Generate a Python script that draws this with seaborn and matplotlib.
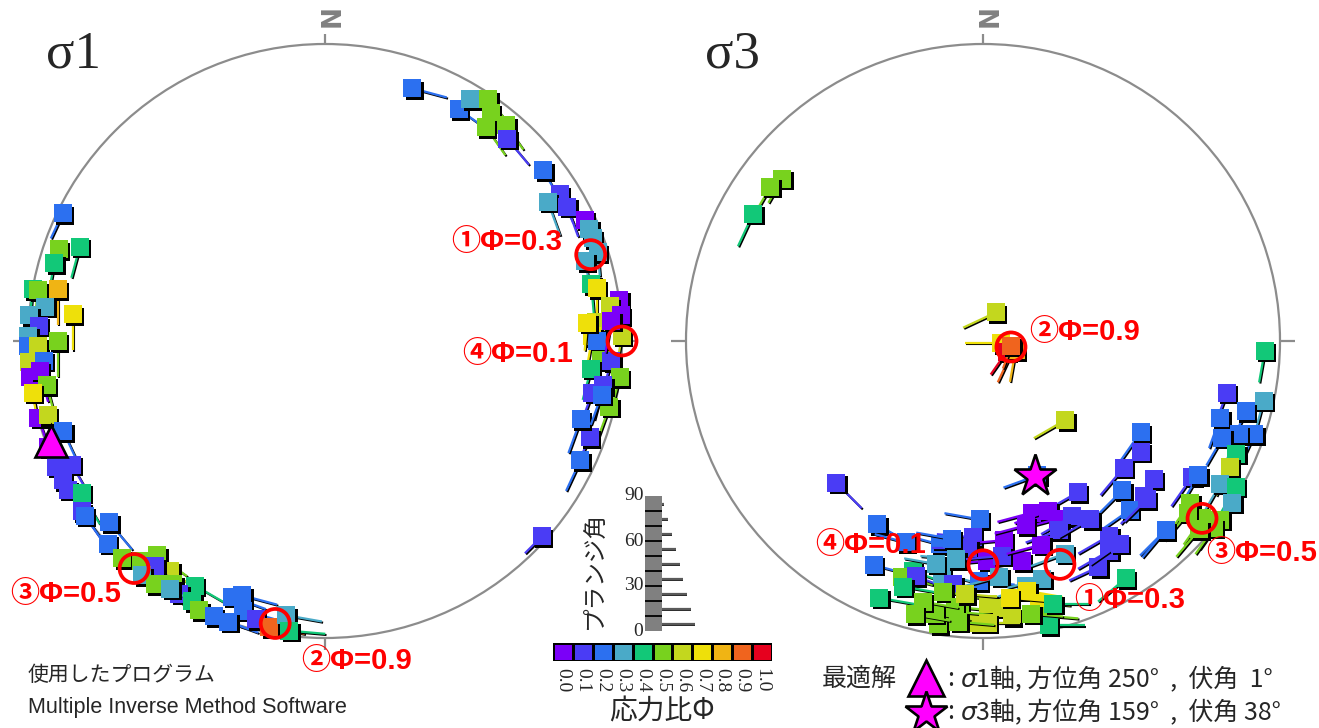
import numpy as np
import matplotlib
matplotlib.use("Agg")
import matplotlib.pyplot as plt
import seaborn as sns
from matplotlib.colors import ListedColormap
from matplotlib.patches import Circle, Rectangle
from matplotlib.lines import Line2D
from matplotlib.text import Annotation
from matplotlib.transforms import ScaledTranslation

# ---------------------------------------------------------------- data
# stress ratio classes and their colours
phi_levels = [0.0, 0.1, 0.2, 0.3, 0.4, 0.5, 0.6, 0.7, 0.8, 0.9, 1.0]
phi_colors = ["#7B00F8", "#4A3CF5", "#2C70F0", "#4AAAC8", "#12C878", "#78D21E",
              "#C3D71E", "#EEE00A", "#F0B414", "#F0641E", "#E6001E"]

# sigma1 tadpoles: axis trend / plunge, stress ratio, tail direction / tail plunge
s1_trend = [19, 30, 31, 34, 36, 37, 40, 42, 52, 58,
            58, 61, 65, 67, 69, 72, 73, 78, 79, 82,
            83, 85, 86, 89, 89, 90, 94, 94, 96, 97,
            101, 99, 103, 110, 115, 132, 107, 86, 86, 101,
            296, 289, 291, 286, 280, 280, 281, 277, 275, 276,
            273, 271, 269, 269, 270, 266, 266, 263, 264, 261,
            260, 255, 255, 251, 249, 245, 244, 242, 240, 238,
            235, 234, 230, 227, 223, 220, 218, 214, 217, 218,
            215, 212, 208, 210, 212, 207, 205, 202, 200, 198,
            197, 199, 194, 191, 188, 187]
s1_plunge = [6, 6, 3, 1, 3, 6, 3, 5, 4, 4,
             7, 4, 2, 2, 2, 2, 5, 5, 4, 0,
             2, 0, 5, 0, 6, 5, 4, 2, 6, 0,
             5, 3, 1, 3, 3, 1, 6, 7, 2, 3,
             1, 3, 7, 3, 0, 1, 5, 3, 0, 9,
             2, 0, 0, 2, 6, 0, 3, 0, 2, 3,
             0, 0, 2, 4, 0, 0, 3, 0, 0, 2,
             0, 0, 3, 0, 0, 2, 5, 4, 3, 0,
             0, 2, 4, 1, 1, 1, 0, 0, 5, 6,
             3, 0, 2, 1, 4, 1]
s1_phi = [0.2, 0.2, 0.3, 0.5, 0.5, 0.5, 0.5, 0.1, 0.2, 0.1,
          0.3, 0.1, 0.0, 0.3, 0.3, 0.3, 0.3, 0.4, 0.7, 0.0,
          0.6, 0.0, 0.6, 0.6, 0.7, 0.2, 0.5, 0.1, 0.4, 0.5,
          0.1, 0.1, 0.5, 0.1, 0.2, 0.1, 0.2, 0.7, 0.0, 0.2,
          0.2, 0.5, 0.4, 0.4, 0.4, 0.5, 0.8, 0.3, 0.3, 0.7,
          0.1, 0.3, 0.2, 0.6, 0.5, 0.6, 0.2, 0.0, 0.0, 0.5,
          0.7, 0.0, 0.6, 0.2, 0.0, 0.1, 0.1, 0.1, 0.1, 0.4,
          0.1, 0.2, 0.2, 0.2, 0.5, 0.5, 0.5, 0.6, 0.1, 0.3,
          0.5, 0.5, 0.4, 0.1, 0.3, 0.4, 0.5, 0.2, 0.2, 0.2,
          0.2, 0.2, 0.1, 0.9, 0.3, 0.4]
s1_tail_dir = [105, 125, 130, 140, 140, 145, 145, 140, 150, 155,
               160, 160, 165, 165, 170, 175, 170, 175, 180, 185,
               185, 190, 185, 190, 190, 190, 190, 195, 195, 195,
               200, 195, 200, 205, 205, 225, 200, 185, 190, 200,
               205, 195, 195, 190, 185, 185, 180, 180, 180, 180,
               175, 175, 170, 175, 180, 170, 170, 170, 165, 165,
               170, 160, 160, 155, 155, 150, 150, 150, 145, 150,
               145, 145, 140, 135, 130, 130, 125, 125, 130, 130,
               125, 125, 120, 120, 120, 115, 115, 110, 110, 105,
               105, 110, 105, 100, 100, 95]
s1_tail_plunge = [0, 10, 30, 20, 10, 5, 15, 5, 20, 10,
                  0, 10, 20, 10, 20, 30, 5, 0, 10, 10,
                  0, 20, 0, 30, 20, 0, 0, 10, 10, 0,
                  10, 0, 5, 20, 5, 30, 0, 20, 10, 10,
                  20, 40, 10, 30, 20, 10, 0, 20, 30, 0,
                  20, 30, 20, 10, 0, 10, 20, 10, 10, 0,
                  20, 10, 20, 10, 20, 10, 0, 0, 0, 0,
                  10, 0, 0, 10, 20, 10, 0, 0, 10, 0,
                  0, 10, 0, 10, 0, 10, 0, 10, 0, 0,
                  10, 10, 0, 0, 0, 0]

# sigma3 tadpoles
s3_trend = [309, 306, 299, 24, 97, 106, 114, 106, 100, 134,
            226, 120, 125, 132, 129, 137, 148, 134, 158, 164,
            159, 157, 153, 158, 139, 134, 210, 181, 183, 174,
            192, 184, 170, 179, 159, 147, 149, 153, 146, 136,
            206, 197, 199, 196, 198, 190, 187, 181, 176, 170,
            166, 149, 189, 185, 179, 176, 170, 168, 174, 189,
            181, 167, 186, 190, 167, 179, 92, 102, 102, 108,
            105, 109, 110, 112, 114, 117, 123, 122, 121, 120,
            123, 128, 129, 127, 130, 136, 129, 131,
            202, 193, 184, 174, 187, 192, 175, 164, 167, 149,
            185, 170, 194, 165, 189, 201]
s3_plunge = [8, 7, 7, 78, 83, 78, 80, 77, 79, 48,
             21, 27, 24, 25, 17, 21, 28, 16, 38, 28,
             27, 24, 23, 21, 16, 15, 19, 28, 23, 22,
             20, 20, 16, 17, 15, 14, 11, 9, 11, 7,
             10, 12, 10, 11, 8, 13, 11, 12, 13, 10,
             11, 4, 9, 6, 7, 6, 9, 6, 4, 2,
             3, 3, 5, 4, 1, 3, 3, 2, 10, 10,
             5, 2, 5, 8, 4, 4, 10, 9, 4, 1,
             0, 7, 3, 0, 6, 7, 0, 2,
             4, 6, 9, 8, 17, 15, 18, 19, 25, 20,
             3, 4, 3, 5, 22, 18]
s3_phi = [0.5, 0.5, 0.4, 0.6, 0.7, 0.9, 1.0, 0.8, 0.9, 0.6,
          0.1, 0.2, 0.1, 0.1, 0.1, 0.2, 0.1, 0.1, 0.2, 0.0,
          0.0, 0.0, 0.1, 0.1, 0.2, 0.1, 0.2, 0.2, 0.1, 0.0,
          0.2, 0.1, 0.0, 0.0, 0.3, 0.1, 0.1, 0.1, 0.1, 0.2,
          0.2, 0.4, 0.5, 0.1, 0.4, 0.3, 0.1, 0.2, 0.3, 0.3,
          0.3, 0.4, 0.5, 0.5, 0.6, 0.6, 0.7, 0.7, 0.6, 0.5,
          0.6, 0.5, 0.5, 0.5, 0.4, 0.6, 0.4, 0.3, 0.1, 0.2,
          0.2, 0.2, 0.2, 0.2, 0.4, 0.6, 0.1, 0.2, 0.3, 0.4,
          0.3, 0.5, 0.5, 0.5, 0.5, 0.2, 0.5, 0.5,
          0.4, 0.5, 0.6, 0.7, 0.3, 0.3, 0.1, 0.0, 0.0, 0.1,
          0.5, 0.5, 0.5, 0.4, 0.2, 0.2]
s3_tail_dir = [210, 210, 205, 245, 270, 205, 215, 190, 200, 240,
               135, 215, 220, 220, 215, 225, 240, 220, 250, 255,
               250, 255, 240, 250, 235, 225, 120, 280, 275, 265,
               285, 270, 260, 265, 250, 240, 240, 245, 235, 225,
               105, 110, 105, 110, 100, 105, 100, 95, 255, 250,
               255, 230, 100, 95, 95, 100, 100, 95, 95, 95,
               90, 95, 95, 100, 90, 90, 190, 195, 200, 200,
               205, 205, 205, 210, 205, 205, 215, 210, 210, 210,
               210, 215, 215, 215, 220, 220, 215, 220,
               100, 100, 95, 95, 275, 280, 265, 255, 255, 240,
               95, 95, 100, 90, 280, 285]
s3_tail_plunge = [20, 30, 0, 0, 0, 0, 20, 10, 30, 0,
                  0, 0, 10, 0, 10, 0, 0, 0, 0, 0,
                  0, 10, 0, 0, 0, 10, 10, 0, 0, 0,
                  10, 0, 0, 10, 0, 0, 0, 10, 0, 0,
                  0, 0, 10, 0, 0, 0, 10, 0, 0, 10,
                  0, 0, 0, 0, 10, 0, 0, 10, 0, 0,
                  0, 10, 0, 0, 0, 10, 10, 0, 20, 10,
                  0, 10, 0, 10, 0, 10, 0, 10, 0, 10,
                  0, 0, 10, 0, 0, 0, 10, 0,
                  0, 0, 10, 0, 0, 10, 0, 0, 10, 0,
                  0, 10, 0, 0, 0, 10]

# highlighted solutions (ringed) on each net
s1_mark_trend = [72, 90, 220, 190]
s1_mark_plunge = [3.5, 0, 0, 2]
s1_mark_label = ["①Φ=0.3", "④Φ=0.1", "③Φ=0.5", "②Φ=0.9"]
s3_mark_trend = [102, 180, 161, 129]
s3_mark_plunge = [79, 16, 13, 3]
s3_mark_label = ["②Φ=0.9", "④Φ=0.1", "①Φ=0.3", "③Φ=0.5"]

# optimal solution
best_axis = ["1", "3"]
best_trend = [250, 159]
best_plunge = [1, 38]

plunge_ticks = [0, 30, 60, 90]

# ---------------------------------------------------------------- style
sns.set_theme(style="white")
CJK = ["Noto Sans CJK JP", "DejaVu Sans"]
RED_FONT = ["Liberation Sans", "Noto Sans CJK JP", "DejaVu Sans"]
SERIF = ["Liberation Serif", "DejaVu Serif"]
plt.rcParams["font.family"] = CJK

W, H = 1319, 728
fig = plt.figure(figsize=(W / 100, H / 100), dpi=100)
fig.patch.set_facecolor("white")

GRID = "#8c8c8c"
HALF = 1.12
SQ = 12.4 ** 2                    # square marker area (pt^2)
TAIL_MAX = 36 / 297               # tail length at zero plunge, in net radii


def fx(x):
    return x / W


def fy(y):
    return 1 - y / H


def project(trend, plunge):
    """Lower-hemisphere stereographic projection, north up."""
    trend = np.radians(np.asarray(trend, float))
    r = np.tan(np.radians(90 - np.asarray(plunge, float)) / 2)
    return r * np.sin(trend), r * np.cos(trend)


def make_net(cx, cy, R):
    ax = fig.add_axes([(cx - HALF * R) / W, (H - cy - HALF * R) / H,
                       2 * HALF * R / W, 2 * HALF * R / H])
    ax.set_axis_off()
    ax.patch.set_alpha(0)
    ax.add_patch(Circle((0, 0), 1, fill=False, ec=GRID, lw=1.6, zorder=1))
    kw = dict(color=GRID, lw=1.6, zorder=1, solid_capstyle="butt")
    ax.plot([0, 0], [1, 1.035], **kw)
    ax.plot([1, 1.05], [0, 0], **kw)
    ax.plot([-1.05, -1], [0, 0], **kw)
    ax.plot([0, 0], [-1, -1.04], **kw)
    fig.text(fx(cx), fy(20), "N", rotation=-90, ha="center", va="center",
             fontsize=19, fontweight="bold", color="#808080",
             family=["DejaVu Sans"])
    return ax


def draw_tadpoles(ax, trend, plunge, phi, tdir, tpl):
    x, y = project(trend, plunge)
    length = TAIL_MAX * (1 - np.asarray(tpl, float) / 90)
    a = np.radians(tdir)
    xe, ye = x + length * np.sin(a), y + length * np.cos(a)
    sq_shadow = ax.transData + ScaledTranslation(0.025, -0.025, fig.dpi_scale_trans)
    ln_shadow = ax.transData + ScaledTranslation(0.012, -0.012, fig.dpi_scale_trans)
    for i in range(len(x)):
        c = phi_colors[int(round(phi[i] * 10))]
        z = 10 + 4 * i
        ax.plot([x[i], xe[i]], [y[i], ye[i]], color="black", lw=1.5,
                transform=ln_shadow, zorder=z, solid_capstyle="butt")
        ax.plot([x[i], xe[i]], [y[i], ye[i]], color=c, lw=1.6, zorder=z + 1,
                solid_capstyle="butt")
        ax.scatter([x[i]], [y[i]], marker="s", s=SQ, c="black", linewidths=0,
                   transform=sq_shadow, zorder=z + 2)
        sns.scatterplot(x=[x[i]], y=[y[i]], marker="s", s=SQ, color=c,
                        linewidth=0, zorder=z + 3, ax=ax, legend=False)


def draw_marks(ax, trend, plunge, labels, offsets):
    mx, my = project(trend, plunge)
    for i in range(len(mx)):
        ax.add_patch(Circle((mx[i], my[i]), 14.5 / 297, fill=False, ec="#FF0000",
                            lw=2.7, zorder=3000))
        dx, dy, ha = offsets[i]
        ax.annotate(labels[i], xy=(mx[i], my[i]), xytext=(dx * 0.72, dy * 0.72),
                    textcoords="offset points", ha=ha, va="center",
                    fontsize=21, fontweight="bold", color="#FF0000",
                    family=RED_FONT, zorder=3001, annotation_clip=False)


# ---------------------------------------------------------------- nets
ax1 = make_net(325, 341, 297)
ax3 = make_net(983, 341, 297)

draw_tadpoles(ax1, s1_trend, s1_plunge, s1_phi, s1_tail_dir, s1_tail_plunge)
draw_tadpoles(ax3, s3_trend, s3_plunge, s3_phi, s3_tail_dir, s3_tail_plunge)

draw_marks(ax1, s1_mark_trend, s1_mark_plunge, s1_mark_label,
           [(-29, 13, "right"), (-49, -13, "right"), (-13, -25, "right"), (26, -38, "left")])
draw_marks(ax3, s3_mark_trend, s3_mark_plunge, s3_mark_label,
           [(18, 15, "left"), (-57, 20, "right"), (14, -36, "left"), (4, -35, "left")])

bx, by = project([best_trend[0]], [best_plunge[0]])
ax1.plot(bx, by, marker="^", ms=23, mfc="#FF00FF", mec="black", mew=1.9,
         ls="none", zorder=4000)
bx, by = project([best_trend[1]], [best_plunge[1]])
ax3.plot(bx, by, marker="*", ms=32, mfc="#FF00FF", mec="black", mew=1.9,
         ls="none", zorder=4000)

for ax in (ax1, ax3):
    ax.set_xlim(-HALF, HALF)
    ax.set_ylim(-HALF, HALF)

fig.text(fx(46), fy(68), "σ1", fontsize=38, family=SERIF, va="baseline")
fig.text(fx(705), fy(68), "σ3", fontsize=38, family=SERIF, va="baseline")

# ---------------------------------------------------------------- stress ratio scale
cax = fig.add_axes([fx(553), fy(661), 219 / W, 18 / H])
sns.heatmap(np.array([phi_levels]), cmap=ListedColormap(phi_colors),
            vmin=-0.05, vmax=1.05, cbar=False, linewidths=1.0, linecolor="black",
            xticklabels=[f"{v:.1f}" for v in phi_levels], yticklabels=False, ax=cax)
cax.tick_params(axis="x", length=0, pad=5)
for lab in cax.get_xticklabels():
    lab.set_rotation(-90)
    lab.set_ha("center")
    lab.set_va("top")
    lab.set_fontsize(14)
    lab.set_family(SERIF)
cax.set_xlabel("")
cax.set_ylabel("")
fig.text(fx(662), fy(711), "応力比Φ", fontsize=20, ha="center", va="center", family=CJK)

# ---------------------------------------------------------------- plunge scale
pax = fig.add_axes([fx(645), fy(631), 60 / W, 135 / H])
pax.set_xlim(0, 60)
pax.set_ylim(0, 90)
pax.set_axis_off()
pax.patch.set_alpha(0)
pax.add_patch(Rectangle((0, 0), 17, 90, fc="#808080", ec="none"))
for v in range(10, 90, 10):
    pax.plot([0, 17], [v, v], color="black", lw=1.3, solid_capstyle="butt")
tshadow = pax.transData + ScaledTranslation(0, -0.012, fig.dpi_scale_trans)
for p in range(5, 90, 10):
    L = 35 * (1 - p / 90)
    pax.plot([17, 17 + L], [p, p], color="black", lw=1.2, transform=tshadow,
             solid_capstyle="butt")
    pax.plot([17, 17 + L], [p, p], color="#5a5a5a", lw=1.6, solid_capstyle="butt")
for v in plunge_ticks:
    pax.text(-1.5, v, str(v), ha="right", va="center", fontsize=14, family=SERIF)
fig.text(fx(594), fy(570), "プランジ角", rotation=90, ha="center", va="center",
         fontsize=17, family=CJK)

# ---------------------------------------------------------------- program note
fig.text(fx(28), fy(675), "使用したプログラム", fontsize=15, va="center", family=CJK)
fig.text(fx(28), fy(708), "Multiple Inverse Method Software", fontsize=15.5,
         va="center", family=["Liberation Sans"])

# ---------------------------------------------------------------- optimal solution legend
fig.text(fx(822), fy(679), "最適解", fontsize=18, va="center", family=CJK)
fig.add_artist(Line2D([fx(926)], [fy(678)], transform=fig.transFigure, marker="^",
                      ms=26, mfc="#FF00FF", mec="black", mew=1.9, ls="none"))
fig.add_artist(Line2D([fx(926)], [fy(713)], transform=fig.transFigure, marker="*",
                      ms=32, mfc="#FF00FF", mec="black", mew=1.9, ls="none"))
for k, row in enumerate([679, 712]):
    t0 = fig.text(fx(948), fy(row), ": ", fontsize=18, va="center", family=CJK)
    s = fig.add_artist(Annotation("σ", xy=(1, 0), xycoords=t0, va="bottom",
                                  ha="left", fontsize=18, style="italic",
                                  family=["DejaVu Sans"]))
    rest = (f"{best_axis[k]}軸, 方位角 {best_trend[k]}°  ,  伏角 "
            f"{best_plunge[k]:>2}°")
    fig.add_artist(Annotation(rest, xy=(1, 0), xycoords=s, va="bottom",
                              ha="left", fontsize=18, family=CJK))

fig.savefig("out.png", dpi=100, facecolor="white")
